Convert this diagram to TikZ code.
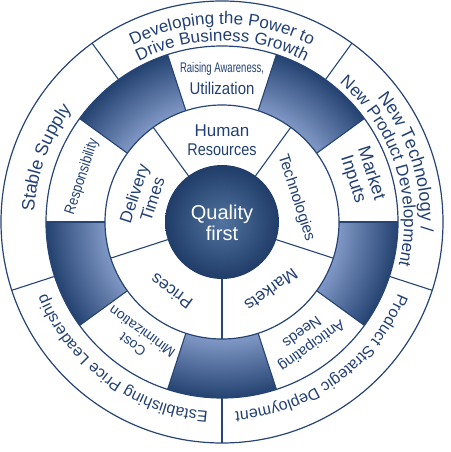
\documentclass[tikz,border=0pt]{standalone}
\usepackage{fontspec}
\setmainfont{Liberation Sans}
\usetikzlibrary{calc}
\usetikzlibrary{positioning}
\usetikzlibrary{decorations.text}
\definecolor{ringblue}{RGB}{38,68,118}
\definecolor{textblue}{RGB}{34,64,116}
\definecolor{shadedark}{RGB}{36,66,112}
\definecolor{shadelight}{RGB}{128,152,198}
\definecolor{coredark}{RGB}{32,60,104}
\definecolor{corelight}{RGB}{82,116,160}
\pgfdeclareradialshading{ringshade}{\pgfpoint{0bp}{0bp}}{color(0bp)=(shadelight); color(16.6bp)=(shadelight); color(25bp)=(shadedark); color(50bp)=(shadedark)}

\begin{document}
\begin{tikzpicture}[%
  ring/.style={draw=ringblue, line width=1.2pt},
  spoke/.style={draw=ringblue, line width=1.1pt},
  word/.style={text=textblue, align=center, inner sep=0pt},
  innerword/.style={word, font=\fontsize{17}{19}\selectfont},
  midword/.style={word, font=\fontsize{15}{17}\selectfont},
  arcword/.style={decorate, decoration={text along path, text align=center, text color=textblue, text={#1}}},
]

  \useasboundingbox (-222pt,-230pt) rectangle (228pt,222pt);

  \begin{scope}
    \clip (108:117pt) arc[start angle=108, end angle=144, radius=117pt] -- (144:176pt) arc[start angle=144, end angle=108, radius=176pt] -- cycle
          (36:117pt) arc[start angle=36, end angle=72, radius=117pt] -- (72:176pt) arc[start angle=72, end angle=36, radius=176pt] -- cycle
          (-36:117pt) arc[start angle=-36, end angle=0, radius=117pt] -- (0:176pt) arc[start angle=0, end angle=-36, radius=176pt] -- cycle
          (-108:117pt) arc[start angle=-108, end angle=-72, radius=117pt] -- (-72:176pt) arc[start angle=-72, end angle=-108, radius=176pt] -- cycle
          (180:117pt) arc[start angle=180, end angle=216, radius=117pt] -- (216:176pt) arc[start angle=216, end angle=180, radius=176pt] -- cycle;
    \shade[shading=ringshade] (0,0) circle (176pt);
  \end{scope}

  \draw[ring] (0,0) circle (221pt);
  \draw[ring] (0,0) circle (176pt);
  \draw[ring] (0,0) circle (117pt);
  \shade[inner color=corelight, outer color=coredark] (0,0) circle (57pt);

  \draw[spoke] (54:176pt) -- (54:221pt);
  \draw[spoke] (126:176pt) -- (126:221pt);
  \draw[spoke] (198:176pt) -- (198:221pt);
  \draw[spoke] (270:176pt) -- (270:221pt);
  \draw[spoke] (342:176pt) -- (342:221pt);

  \draw[spoke] (0:117pt) -- (0:176pt);
  \draw[spoke] (36:117pt) -- (36:176pt);
  \draw[spoke] (72:117pt) -- (72:176pt);
  \draw[spoke] (108:117pt) -- (108:176pt);
  \draw[spoke] (144:117pt) -- (144:176pt);
  \draw[spoke] (180:117pt) -- (180:176pt);
  \draw[spoke] (216:117pt) -- (216:176pt);
  \draw[spoke] (252:117pt) -- (252:176pt);
  \draw[spoke] (288:117pt) -- (288:176pt);
  \draw[spoke] (324:117pt) -- (324:176pt);

  \draw[spoke] (54:57pt) -- (54:117pt);
  \draw[spoke] (126:57pt) -- (126:117pt);
  \draw[spoke] (198:57pt) -- (198:117pt);
  \draw[spoke] (270:57pt) -- (270:117pt);
  \draw[spoke] (342:57pt) -- (342:117pt);

  \path[arcword={|\fontsize{17}{17}\selectfont|Developing the Power to}] (126:198pt) arc[start angle=126, end angle=54, radius=198pt];
  \path[arcword={|\fontsize{17}{17}\selectfont|Drive Business Growth}] (126:181pt) arc[start angle=126, end angle=54, radius=181pt];
  \path[arcword={|\fontsize{18}{18}\selectfont|New Technology /}] (56:199pt) arc[start angle=56, end angle=-20, radius=199pt];
  \path[arcword={|\fontsize{17}{17}\selectfont|New Product Development}] (54:182pt) arc[start angle=54, end angle=-18, radius=182pt];
  \path[arcword={|\fontsize{16}{16}\selectfont|Product Strategic Deployment}] (-18:190pt) arc[start angle=-18, end angle=-90, radius=190pt];
  \path[arcword={|\fontsize{16}{16}\selectfont|Establishing Price Leadership}] (-90:190pt) arc[start angle=-90, end angle=-162, radius=190pt];
  \path[arcword={|\fontsize{18}{18}\selectfont|Stable Supply}] (196:188pt) arc[start angle=196, end angle=124, radius=188pt];

  \node[word, anchor=base, font=\fontsize{14}{16}\selectfont] (raising) at (0pt,149pt) {\scalebox{0.68}[1]{Raising Awareness,}};
  \node[word, anchor=base, font=\fontsize{17}{19}\selectfont] (utilization) at (0pt,127pt) {\scalebox{0.88}[1]{Utilization}};
  \node[midword, rotate=-72, font=\fontsize{18}{19}\selectfont] (inputs) at (18:147pt) {Market\\Inputs};
  \node[midword, rotate=-144] (needs) at (-54:145pt) {Anticipating\\Needs};
  \node[midword, rotate=144, font=\fontsize{14}{16}\selectfont] (cost) at (-126:144pt) {Cost\\Minimization};
  \node[midword, rotate=72] (responsibility) at (162:147pt) {\scalebox{0.85}[1]{Responsibility}};

  \node[innerword] (human) at (90:82pt) {Human\\\scalebox{0.85}[1]{Resources}};
  \node[innerword, rotate=-72, font=\fontsize{15.5}{17}\selectfont] (technologies) at (18:78pt) {Technologies};
  \node[innerword, rotate=-144] (markets) at (-54:84pt) {Markets};
  \node[innerword, rotate=144] (prices) at (-126:86pt) {Prices};
  \node[innerword, rotate=72] (delivery) at (162:83pt) {Delivery\\Times};

  \node[word, text=white, font=\fontsize{20}{21}\selectfont] (quality) at (0pt,-1pt) {Quality\\first};

\end{tikzpicture}
\end{document}
